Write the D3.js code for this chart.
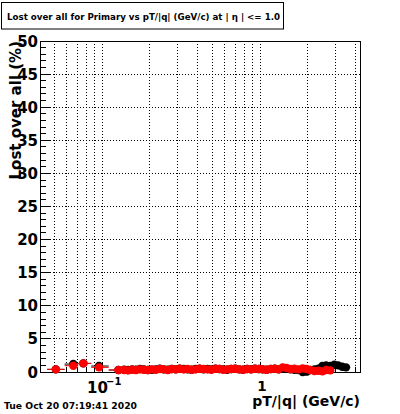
<!DOCTYPE html>
<html><head><meta charset="utf-8">
<script src="https://cdn.jsdelivr.net/npm/d3@7"></script>
<style>html,body{margin:0;padding:0;background:#fff;}svg{display:block;}</style>
</head><body>
<svg id="c" width="400" height="414"></svg>
<script>
const titleText = "Lost over all for Primary vs pT/|q| (GeV/c) at | \u03B7 | <= 1.0";
const xTitle = "pT/|q| (GeV/c)";
const yTitle = "Lost over all (%)";
const dateText = "Tue Oct 20 07:19:41 2020";
const yTicks = [0,5,10,15,20,25,30,35,40,45,50];
const xMajor = [0.1, 1];

// bin centres (pT/|q|)
const pt = [0.051,0.0658,0.0762,0.0957,0.127,
 0.138,0.146,0.155,0.164,0.174,0.184,0.195,0.207,0.219,0.232,0.246,0.261,0.276,0.293,0.310,0.329,0.348,0.369,0.391,0.414,
 0.439,0.465,0.492,0.522,0.553,0.585,0.620,0.657,0.696,0.738,0.781,0.828,0.877,0.929,0.984,1.04,1.10,1.17,1.24,1.31,
 1.39,1.47,1.56,1.65,1.75,1.86,1.97,2.08,2.21,2.34,2.48,2.62,2.78,2.95,3.12,3.31,3.50];
// black series (all)
const allVals = [0.4,1.2,1.3,0.9,0.3,
 0.35,0.3,0.4,0.35,0.45,0.4,0.3,0.35,0.4,0.5,0.4,0.35,0.45,0.4,0.5,0.45,0.4,0.35,0.45,0.5,
 0.4,0.45,0.4,0.5,0.45,0.4,0.35,0.45,0.5,0.4,0.35,0.45,0.4,0.5,0.45,0.4,0.35,0.45,0.5,0.4,
 0.6,0.5,0.4,0.35,0.3,0.0,0.05,0.3,0.4,0.5,0.9,1.0,0.9,1.1,1.0,0.8,0.7];
// red series (primary)
const primVals = [0.4,0.95,1.3,0.7,0.3,
 0.3,0.25,0.35,0.3,0.4,0.35,0.3,0.4,0.35,0.45,0.4,0.3,0.45,0.4,0.5,0.4,0.45,0.35,0.4,0.5,
 0.45,0.4,0.35,0.5,0.45,0.35,0.4,0.45,0.5,0.4,0.35,0.45,0.4,0.5,0.45,0.4,0.35,0.45,0.5,0.4,
 0.7,0.6,0.45,0.5,0.4,0.55,0.45,0.3,0.15,0.2,0.1,0.3,0.25];

const svg = d3.select("#c");
const L=40.5, R=360, T=41, B=372;
const x = d3.scaleLog().domain([0.0408, 4.29]).range([L, R]);
const y = d3.scaleLinear().domain([0, 50]).range([B, T]);
const FONT = "DejaVu Sans, sans-serif";

// title box
svg.append("rect").attr("x",1.5).attr("y",2.5).attr("width",282).attr("height",26.5)
  .attr("fill","#fff").attr("stroke","#000").attr("stroke-width",1);
svg.append("text").attr("x",7).attr("y",19.5).attr("font-family",FONT).attr("font-weight","bold")
  .attr("font-size",9).attr("textLength",273).attr("lengthAdjust","spacingAndGlyphs").text(titleText);

const g = svg.append("g");
// grid
const xGrid = [];
[0.01,0.1,1].forEach(d=>{for(let k=1;k<10;k++){const v=d*k; if(v>x.domain()[0]&&v<x.domain()[1]) xGrid.push(v);}});
g.selectAll(".vg").data(xGrid).join("line").attr("x1",d=>x(d)).attr("x2",d=>x(d)).attr("y1",T).attr("y2",B)
  .attr("stroke","#000").attr("stroke-width",1).attr("stroke-dasharray","1,2").attr("shape-rendering","crispEdges");
g.selectAll(".hg").data(yTicks.filter(d=>d>0&&d<50)).join("line").attr("x1",L).attr("x2",R).attr("y1",d=>y(d)).attr("y2",d=>y(d))
  .attr("stroke","#000").attr("stroke-width",1).attr("stroke-dasharray","1,2").attr("shape-rendering","crispEdges");

// y axis ticks inside
const yMinor = d3.range(0,51,1);
g.selectAll(".ym").data(yMinor).join("line").attr("x1",L).attr("x2",d=>L+(d%5===0?9:5))
  .attr("y1",d=>y(d)).attr("y2",d=>y(d)).attr("stroke","#000").attr("shape-rendering","crispEdges");
g.selectAll(".yl").data(yTicks).join("text").attr("x",38).attr("y",d=>y(d)+5.5).attr("text-anchor","end")
  .attr("font-family",FONT).attr("font-weight","bold").attr("font-size",15).text(d=>d);

// x axis ticks
g.selectAll(".xm").data(xGrid).join("line").attr("x1",d=>x(d)).attr("x2",d=>x(d))
  .attr("y1",B).attr("y2",d=>B-(xMajor.includes(d)?10:5)).attr("stroke","#000").attr("shape-rendering","crispEdges");

// x labels
svg.append("text").attr("x",x(0.1)-15).attr("y",392.5).attr("font-family",FONT).attr("font-weight","bold").attr("font-size",15).text("10");
svg.append("text").attr("x",x(0.1)+4).attr("y",385).attr("font-family",FONT).attr("font-weight","bold").attr("font-size",10).text("\u22121");
svg.append("text").attr("x",x(1)+2).attr("y",391).attr("text-anchor","middle").attr("font-family",FONT).attr("font-weight","bold").attr("font-size",13.5).text("1");

// axis titles
svg.append("text").attr("x",R).attr("y",406).attr("text-anchor","end").attr("font-family",FONT).attr("font-weight","bold").attr("font-size",14).text(xTitle);
svg.append("text").attr("transform",`translate(20.5,${T}) rotate(-90)`).attr("text-anchor","end").attr("font-family",FONT).attr("font-weight","bold").attr("font-size",15).text(yTitle);
svg.append("text").attr("x",4).attr("y",409).attr("font-family",FONT).attr("font-weight","bold").attr("font-size",9).attr("textLength",133).attr("lengthAdjust","spacingAndGlyphs").text(dateText);

// data
const dg = svg.append("g");
function edges(i){
  const lo = i===0 ? Math.sqrt(pt[0]*pt[0]*pt[0]/pt[1]) : Math.sqrt(pt[i-1]*pt[i]);
  const hi = i===pt.length-1 ? Math.sqrt(pt[i]*pt[i]*pt[i]/pt[i-1]) : Math.sqrt(pt[i]*pt[i+1]);
  return [Math.max(lo,x.domain()[0]),hi];
}
function drawSeries(vals,color){
  const data = vals.map((v,i)=>({x:pt[i],v,e:edges(i)}));
  const s = dg.append("g");
  s.selectAll(".h").data(data).join("line").attr("x1",d=>x(d.e[0])).attr("x2",d=>x(d.e[1]))
    .attr("y1",d=>y(d.v)).attr("y2",d=>y(d.v)).attr("stroke",color).attr("stroke-width",1);
  s.selectAll(".v").data(data).join("line").attr("x1",d=>x(d.x)).attr("x2",d=>x(d.x))
    .attr("y1",d=>y(d.v+0.25)).attr("y2",d=>y(Math.max(0,d.v-0.25))).attr("stroke",color).attr("stroke-width",1);
  s.selectAll("circle").data(data).join("circle").attr("cx",d=>x(d.x)).attr("cy",d=>y(d.v)).attr("r",4.2).attr("fill",color);
}
drawSeries(allVals,"#000");
drawSeries(primVals,"#ff0000");

// frame
svg.insert("rect","g").attr("x",L).attr("y",T).attr("width",R-L).attr("height",B-T).attr("fill","none").attr("stroke","#000").attr("stroke-width",1).attr("shape-rendering","crispEdges");
</script>
</body></html>
